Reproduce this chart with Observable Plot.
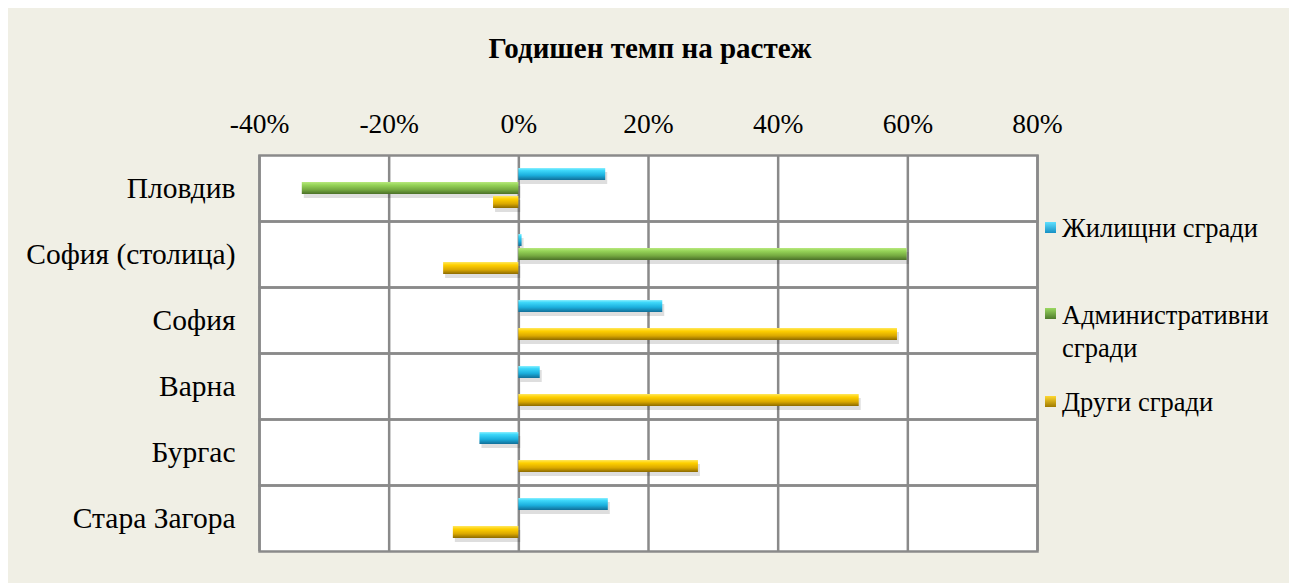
<!DOCTYPE html>
<html>
<head>
<meta charset="utf-8">
<script src="https://cdn.jsdelivr.net/npm/d3@7"></script>
<script src="https://cdn.jsdelivr.net/npm/@observablehq/plot@0.6"></script>
<style>
  html, body { margin: 0; padding: 0; background: #ffffff; }
  #panel { position: absolute; left: 8px; top: 8px; width: 1281px; height: 575px; background: #F0EFE5; overflow: hidden; }
  #title { position: absolute; left: 0; width: 1300px; top: 31px; line-height: 34px; text-align: center; font-family: "Liberation Serif", "Times New Roman", serif; font-weight: bold; font-size: 29px; color: #000; }
  #chart { position: absolute; left: 0; top: 0; }
  .lg { position: absolute; font-family: "Liberation Serif", "Times New Roman", serif; font-size: 26.5px; color: #000; line-height: 33px; white-space: nowrap; }
  .sw { position: absolute; width: 11px; height: 11px; }
  g[aria-label="x-axis tick label"] text { font-size: 27.5px; }
  g[aria-label="fy-axis tick label"] text { font-size: 29.5px; }
</style>
</head>
<body>
<div id="panel">
  <div id="chart"></div>
</div>
<div id="title"></div>
<div id="legend"></div>
<script>
const titleText = "Годишен темп на растеж";
const cities = ["Пловдив", "София (столица)", "София", "Варна", "Бургас", "Стара Загора"];
const seriesNames = ["Жилищни сгради", "Административни сгради", "Други сгради"];
const housing = [13.4, 0.5, 22.2, 3.3, -6.0, 13.8];
const admin = [-33.4, 59.9, null, null, null, null];
const other = [-3.9, -11.6, 58.4, 52.5, 27.7, -10.1];
const xTicks = [-40, -20, 0, 20, 40, 60, 80];
const gradIds = ["g-blue", "g-green", "g-yellow"];

const seriesValues = [housing, admin, other];
const rows = [];
cities.forEach((c, i) => {
  seriesNames.forEach((s, j) => {
    const v = seriesValues[j][i];
    if (v !== null && v !== undefined) rows.push({city: c, series: s, value: v, k: j});
  });
});

const serif = "'Liberation Serif', 'Times New Roman', serif";
const gridColor = "#8a8a8a";

const chart = Plot.plot({
  width: 1281,
  height: 575,
  marginLeft: 251,
  marginRight: 252,
  marginTop: 146,
  marginBottom: 31,
  style: {background: "transparent", fontFamily: serif, fontSize: "27px", color: "#000", overflow: "visible"},
  x: {domain: [-40, 80], axis: "top", ticks: xTicks, tickFormat: d => d + "%", tickSize: 0, tickPadding: 23, label: null},
  y: {domain: seriesNames, axis: null, paddingInner: 0.13, paddingOuter: 0.79},
  fy: {domain: cities, axis: "left", tickSize: 0, tickPadding: 24, label: null, padding: 0},
  marks: [
    Plot.frame({fill: "white", stroke: null}),
    Plot.ruleX(xTicks, {stroke: gridColor, strokeWidth: 2.5}),
    Plot.frame({stroke: gridColor, strokeWidth: 2.5}),
    Plot.barX(rows, {x: "value", y: "series", fy: "city", fill: "#000", fillOpacity: 0.13, dx: 2, dy: 4}),
    ...seriesNames.map((s, j) =>
      Plot.barX(rows.filter(r => r.k === j), {x: "value", y: "series", fy: "city", fill: `url(#${gradIds[j]})`})
    )
  ]
});

// gradient definitions for the bevelled bars
const gradStops = [
  [["0", "#8CF0FF"], ["0.2", "#3ED8FA"], ["0.6", "#1BB0DE"], ["1", "#116E98"]],
  [["0", "#B8E87E"], ["0.25", "#96D458"], ["0.65", "#74A840"], ["1", "#4B7028"]],
  [["0", "#FFE860"], ["0.25", "#FFD000"], ["0.65", "#DAA800"], ["1", "#8C6A00"]]
];
const defs = d3.select(chart).insert("defs", ":first-child");
gradIds.forEach((id, j) => {
  const g = defs.append("linearGradient").attr("id", id).attr("x1", 0).attr("y1", 0).attr("x2", 0).attr("y2", 1);
  gradStops[j].forEach(([o, c]) => g.append("stop").attr("offset", o).attr("stop-color", c));
});

document.getElementById("chart").appendChild(chart);
document.getElementById("title").textContent = titleText;

// legend
const legendItems = [
  {text: "Жилищни сгради", top: 211.5, swTop: 222, sw: "linear-gradient(#5FE0FF, #1690C4)"},
  {text: "Административни<br>сгради", top: 298.5, swTop: 308, sw: "linear-gradient(#9AD860, #4E7A2C)"},
  {text: "Други сгради", top: 385.5, swTop: 396, sw: "linear-gradient(#FFD830, #A07A00)"}
];
const legend = document.getElementById("legend");
legendItems.forEach(it => {
  const sw = document.createElement("div");
  sw.className = "sw";
  sw.style.left = "1045px";
  sw.style.top = it.swTop + "px";
  sw.style.background = it.sw;
  legend.appendChild(sw);
  const t = document.createElement("div");
  t.className = "lg";
  t.style.left = "1062px";
  t.style.top = it.top + "px";
  t.innerHTML = it.text;
  legend.appendChild(t);
});
</script>
</body>
</html>
